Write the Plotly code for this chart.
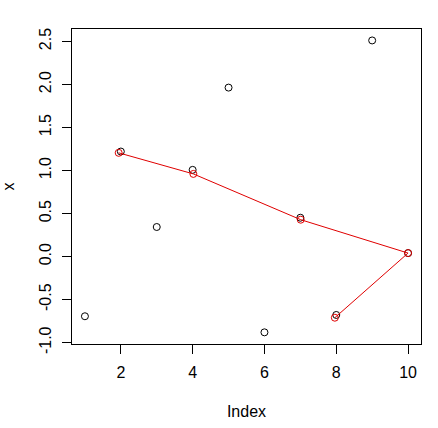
import plotly.graph_objects as go

# data
index = [1, 2, 3, 4, 5, 6, 7, 8, 9, 10]
x_values = [-0.693, 1.221, 0.344, 1.008, 1.964, -0.880, 0.452, -0.678, 2.512, 0.041]
red_index = [1.94, 4.02, 7.01, 10.0, 7.96]
red_values = [1.206, 0.961, 0.429, 0.041, -0.710]
x_tickvals = [2, 4, 6, 8, 10]
x_ticktext = ["2", "4", "6", "8", "10"]
y_tickvals = [-1.0, -0.5, 0.0, 0.5, 1.0, 1.5, 2.0, 2.5]
y_ticktext = ["-1.0", "-0.5", "0.0", "0.5", "1.0", "1.5", "2.0", "2.5"]

FONT = "Liberation Sans, Arial, sans-serif"

fig = go.Figure()
fig.add_trace(go.Scatter(
    x=index, y=x_values, mode="markers",
    marker=dict(symbol="circle-open", size=7, color="black", line=dict(width=1, color="black")),
    showlegend=False, hoverinfo="skip"))
fig.add_trace(go.Scatter(
    x=red_index, y=red_values, mode="lines+markers",
    line=dict(color="#E00000", width=1),
    marker=dict(symbol="circle-open", size=7, color="#E00000", line=dict(width=1, color="#E00000")),
    showlegend=False, hoverinfo="skip"))

axis_common = dict(
    showline=True, linecolor="black", linewidth=1, mirror=True,
    ticks="outside", ticklen=9, tickwidth=1, tickcolor="black",
    showgrid=False, zeroline=False, automargin=False,
    tickfont=dict(family=FONT, size=16, color="black"),
)

fig.update_layout(
    width=438, height=428,
    margin=dict(l=72, r=17, t=29, b=84),
    paper_bgcolor="white", plot_bgcolor="white",
    font=dict(family=FONT, size=16, color="black"),
    xaxis=dict(range=[0.64, 10.36], tickmode="array", tickvals=x_tickvals, ticktext=x_ticktext,
               ticklabelstandoff=5,
               title=dict(text="Index", font=dict(family=FONT, size=16), standoff=25),
               **axis_common),
    yaxis=dict(range=[-1.0155, 2.645], tickmode="array", tickvals=y_tickvals, ticktext=y_ticktext,
               tickangle=-90, ticklabelstandoff=5,
               title=dict(text="x", font=dict(family=FONT, size=16), standoff=22),
               **axis_common),
)

# remove the default 8px page margin so the figure sits at the window origin
fig.write_html("out.html", config={"displayModeBar": False},
               post_script="document.body.style.margin='0';")
